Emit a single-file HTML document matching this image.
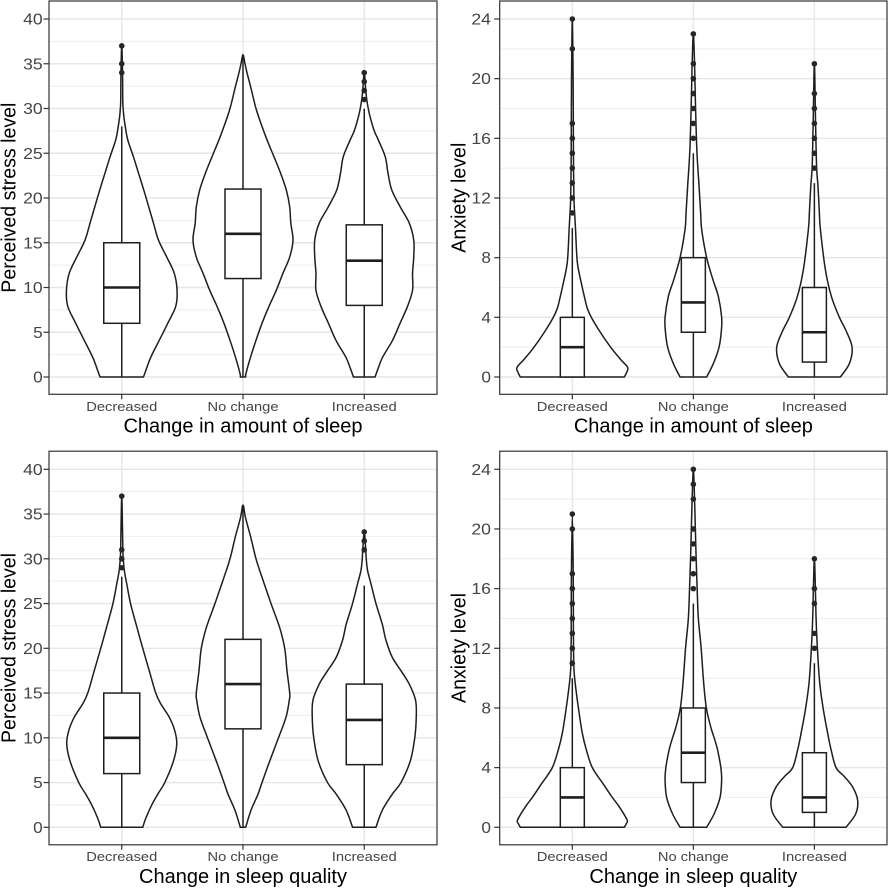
<!DOCTYPE html>
<html>
<head>
<meta charset="utf-8">
<style>
  html,body{margin:0;padding:0;background:#fff;}
  svg{display:block;}
  .yt{font-family:"Liberation Sans",Arial,sans-serif;font-size:15.5px;fill:#444;text-anchor:end;}
  .xt{font-family:"Liberation Sans",Arial,sans-serif;font-size:13.3px;fill:#444;text-anchor:middle;}
  .tt{font-family:"Liberation Sans",Arial,sans-serif;font-size:20px;fill:#000;text-anchor:middle;}
</style>
</head>
<body>
<svg id="s" width="889" height="889" viewBox="0 0 889 889" xmlns="http://www.w3.org/2000/svg">
  <rect x="0" y="0" width="889" height="889" fill="#fff"/>
  <g id="geo"></g>

  <!-- Panel A y tick labels -->
  <text class="yt" x="42.7" y="382.5" textLength="9.6" lengthAdjust="spacingAndGlyphs">0</text>
  <text class="yt" x="42.7" y="337.75" textLength="9.6" lengthAdjust="spacingAndGlyphs">5</text>
  <text class="yt" x="42.7" y="293" textLength="19.6" lengthAdjust="spacingAndGlyphs">10</text>
  <text class="yt" x="42.7" y="248.25" textLength="19.6" lengthAdjust="spacingAndGlyphs">15</text>
  <text class="yt" x="42.7" y="203.5" textLength="19.6" lengthAdjust="spacingAndGlyphs">20</text>
  <text class="yt" x="42.7" y="158.75" textLength="19.6" lengthAdjust="spacingAndGlyphs">25</text>
  <text class="yt" x="42.7" y="114" textLength="19.6" lengthAdjust="spacingAndGlyphs">30</text>
  <text class="yt" x="42.7" y="69.25" textLength="19.6" lengthAdjust="spacingAndGlyphs">35</text>
  <text class="yt" x="42.7" y="24.5" textLength="19.6" lengthAdjust="spacingAndGlyphs">40</text>

  <!-- Panel C y tick labels -->
  <text class="yt" x="42.7" y="832.8" textLength="9.6" lengthAdjust="spacingAndGlyphs">0</text>
  <text class="yt" x="42.7" y="788.05" textLength="9.6" lengthAdjust="spacingAndGlyphs">5</text>
  <text class="yt" x="42.7" y="743.3" textLength="19.6" lengthAdjust="spacingAndGlyphs">10</text>
  <text class="yt" x="42.7" y="698.55" textLength="19.6" lengthAdjust="spacingAndGlyphs">15</text>
  <text class="yt" x="42.7" y="653.8" textLength="19.6" lengthAdjust="spacingAndGlyphs">20</text>
  <text class="yt" x="42.7" y="609.05" textLength="19.6" lengthAdjust="spacingAndGlyphs">25</text>
  <text class="yt" x="42.7" y="564.3" textLength="19.6" lengthAdjust="spacingAndGlyphs">30</text>
  <text class="yt" x="42.7" y="519.55" textLength="19.6" lengthAdjust="spacingAndGlyphs">35</text>
  <text class="yt" x="42.7" y="474.8" textLength="19.6" lengthAdjust="spacingAndGlyphs">40</text>

  <!-- Panel B y tick labels -->
  <text class="yt" x="491" y="382.5" textLength="9.6" lengthAdjust="spacingAndGlyphs">0</text>
  <text class="yt" x="491" y="322.83" textLength="9.6" lengthAdjust="spacingAndGlyphs">4</text>
  <text class="yt" x="491" y="263.17" textLength="9.6" lengthAdjust="spacingAndGlyphs">8</text>
  <text class="yt" x="491" y="203.5" textLength="19.6" lengthAdjust="spacingAndGlyphs">12</text>
  <text class="yt" x="491" y="143.83" textLength="19.6" lengthAdjust="spacingAndGlyphs">16</text>
  <text class="yt" x="491" y="84.17" textLength="19.6" lengthAdjust="spacingAndGlyphs">20</text>
  <text class="yt" x="491" y="24.5" textLength="19.6" lengthAdjust="spacingAndGlyphs">24</text>

  <!-- Panel D y tick labels -->
  <text class="yt" x="491" y="832.8" textLength="9.6" lengthAdjust="spacingAndGlyphs">0</text>
  <text class="yt" x="491" y="773.13" textLength="9.6" lengthAdjust="spacingAndGlyphs">4</text>
  <text class="yt" x="491" y="713.47" textLength="9.6" lengthAdjust="spacingAndGlyphs">8</text>
  <text class="yt" x="491" y="653.8" textLength="19.6" lengthAdjust="spacingAndGlyphs">12</text>
  <text class="yt" x="491" y="594.13" textLength="19.6" lengthAdjust="spacingAndGlyphs">16</text>
  <text class="yt" x="491" y="534.47" textLength="19.6" lengthAdjust="spacingAndGlyphs">20</text>
  <text class="yt" x="491" y="474.8" textLength="19.6" lengthAdjust="spacingAndGlyphs">24</text>

  <!-- X tick labels -->
  <text class="xt" x="121.75" y="410.9" textLength="71" lengthAdjust="spacingAndGlyphs">Decreased</text>
  <text class="xt" x="243" y="410.9" textLength="71" lengthAdjust="spacingAndGlyphs">No change</text>
  <text class="xt" x="364.25" y="410.9" textLength="65" lengthAdjust="spacingAndGlyphs">Increased</text>
  <text class="xt" x="572.3" y="410.9" textLength="71" lengthAdjust="spacingAndGlyphs">Decreased</text>
  <text class="xt" x="693.35" y="410.9" textLength="71" lengthAdjust="spacingAndGlyphs">No change</text>
  <text class="xt" x="814.4" y="410.9" textLength="65" lengthAdjust="spacingAndGlyphs">Increased</text>
  <text class="xt" x="121.75" y="861.2" textLength="71" lengthAdjust="spacingAndGlyphs">Decreased</text>
  <text class="xt" x="243" y="861.2" textLength="71" lengthAdjust="spacingAndGlyphs">No change</text>
  <text class="xt" x="364.25" y="861.2" textLength="65" lengthAdjust="spacingAndGlyphs">Increased</text>
  <text class="xt" x="572.3" y="861.2" textLength="71" lengthAdjust="spacingAndGlyphs">Decreased</text>
  <text class="xt" x="693.35" y="861.2" textLength="71" lengthAdjust="spacingAndGlyphs">No change</text>
  <text class="xt" x="814.4" y="861.2" textLength="65" lengthAdjust="spacingAndGlyphs">Increased</text>

  <!-- Axis titles -->
  <text class="tt" x="243" y="432.7">Change in amount of sleep</text>
  <text class="tt" x="693.35" y="432.7">Change in amount of sleep</text>
  <text class="tt" x="243" y="882.8">Change in sleep quality</text>
  <text class="tt" x="693.35" y="882.8">Change in sleep quality</text>

  <text class="tt" transform="translate(15.6,197.7) rotate(-90)" x="0" y="0" textLength="190" lengthAdjust="spacingAndGlyphs">Perceived stress level</text>
  <text class="tt" transform="translate(15.6,648) rotate(-90)" x="0" y="0" textLength="190" lengthAdjust="spacingAndGlyphs">Perceived stress level</text>
  <text class="tt" transform="translate(465.5,197.7) rotate(-90)" x="0" y="0" textLength="110" lengthAdjust="spacingAndGlyphs">Anxiety level</text>
  <text class="tt" transform="translate(465.5,648) rotate(-90)" x="0" y="0" textLength="110" lengthAdjust="spacingAndGlyphs">Anxiety level</text>
</svg>

<script>
(function(){
  var NS='http://www.w3.org/2000/svg';
  var geo=document.getElementById('geo');
  function el(tag,a,parent){var e=document.createElementNS(NS,tag);for(var k in a)e.setAttribute(k,a[k]);(parent||geo).appendChild(e);return e;}
  function rng(a,b,s){var r=[];for(var v=a;v<=b+1e-9;v+=s)r.push(+v.toFixed(4));return r;}
  function cr(pts){
    var f=function(n){return n.toFixed(2);};
    var d='M'+f(pts[0][0])+','+f(pts[0][1]);
    for(var i=0;i<pts.length-1;i++){
      var p0=pts[i-1]||pts[i],p1=pts[i],p2=pts[i+1],p3=pts[i+2]||pts[i+1];
      var c1x=p1[0]+(p2[0]-p0[0])/6,c1y=p1[1]+(p2[1]-p0[1])/6;
      var c2x=p2[0]-(p3[0]-p1[0])/6,c2y=p2[1]-(p3[1]-p1[1])/6;
      d+='C'+f(c1x)+','+f(c1y)+' '+f(c2x)+','+f(c2y)+' '+f(p2[0])+','+f(p2[1]);
    }
    return d+'Z';
  }
  var STROKE='#1e1e1e';
  var SW=1.5;

  var A1={p:[[0,21.7],[0.7,24],[2.2,29],[4.1,37.5],[6,46],[7.9,54],[9.7,55.3],[11.6,52.5],[13.4,45],[15.3,36.7],[17.2,31.7],[19,27],[20.9,22],[22.8,16.7],[24.6,11.7],[26.5,6],[28,3.5],[29,2.2],[30,1.4],[31,1],[34,0.8],[37,0]],
          s:[0,6,10,15,28],o:[34,35,37]};
  var A2={p:[[0,2.7],[0.4,3],[2.2,7.5],[4.1,13],[6,19],[7.9,26],[9.7,33.3],[11.6,40],[13.4,46.7],[15.3,50],[17.2,47.8],[19,46.7],[20.9,43.3],[22.8,37.5],[24.6,31],[26.5,24],[28,19],[30,13],[32.4,7.7],[34,4],[35,2],[36,0]],
          s:[0,11,16,21,36],o:[]};
  var A3={p:[[0,10.8],[1,14],[2.2,18.3],[4.1,28.3],[6,35.8],[7.9,43.3],[9.7,48.3],[11.6,48.3],[13.4,49.5],[15.3,49.5],[17.2,45],[19,36],[20.9,27.5],[22.8,23.7],[24.6,21],[26.5,14],[27.5,10],[29,6],[30,4],[31,2.5],[32,1.5],[34,0]],
          s:[0,8,13,17,30],o:[31,32,33,34]};

  var B1={p:[[0,52],[0.3,54.3],[0.65,55.3],[1.2,48],[2,38.3],[3,28],[4,19],[4.6,15],[5.4,12],[6.3,9],[7.7,5],[9.9,3.2],[11,2.3],[12,1.6],[14,1.2],[17,1],[20,0.8],[24,0]],
          s:[0,0,2,4,10],o:[11,12,13,14,15,16,17,22,24]};
  var B2={p:[[0,13.3],[0.9,20],[2,25.7],[3.1,28],[4,28.3],[5.4,25],[6.5,19.7],[8,13.3],[9.9,8.3],[11,7.3],[12.8,5.7],[15.2,3.5],[18.6,2],[21,1.2],[23,0]],
          s:[0,3,5,8,15],o:[16,17,18,19,20,21,23]};
  var B3={p:[[0,26],[0.9,35],[2,37.7],[3.1,31.7],[4,25],[5.4,17],[7.2,11],[9.9,6],[11,5],[12.8,3.6],[14.1,2.2],[17,1.2],[21,0]],
          s:[0,1,3,6,13],o:[14,15,16,17,18,19,21]};

  var C1={p:[[0,21],[1,24],[2.5,30],[3.7,36],[5,43],[7.4,51.7],[9.3,55],[10.8,53],[12.3,47.5],[13.8,39],[15,34],[17.5,27.5],[20,21],[22.3,15.3],[25,8.8],[27.2,5],[28.6,2.7],[30,1.5],[31,1.1],[33,0.8],[37,0]],
          s:[0,6,10,15,28],o:[29,30,31,37]};
  var C2={p:[[0,2.7],[1.9,8],[3.7,15],[5,19],[7.4,26.7],[10,35.5],[12.3,43],[14.2,46.3],[15,46.7],[17.5,44],[20,41.7],[22.3,36.7],[25,28],[27.6,20],[30,13],[32.4,7.8],[34.6,2.5],[36,0]],
          s:[0,11,16,21,36],o:[]};
  var C3={p:[[0,11.7],[1.9,18],[3.7,28],[5,36.7],[7.4,46],[10,50.5],[12.3,52],[14.2,51.3],[16,45],[17.5,36.7],[19,28],[20.9,21.7],[22.7,18],[25,11.7],[27.2,6.7],[28.7,3.3],[30,2],[31,1.5],[33,0]],
          s:[0,7,12,16,27],o:[31,32,33]};

  var D1={p:[[0,52],[0.25,54],[0.5,54.7],[1.4,46.7],[2,40],[2.9,31],[4,20],[5.2,14],[6.3,10],[7.9,6.3],[9.7,2.8],[10.8,1.5],[13,1.1],[17,0.9],[21,0]],
          s:[0,0,2,4,10],o:[11,12,13,14,15,16,17,20,21]};
  var D2={p:[[0,13.3],[0.9,20.8],[2,26.7],[3.2,28.3],[4,27.5],[5.2,24.2],[6,20.8],[6.7,17.5],[8,13],[9.7,10.3],[12,7.8],[14,5],[16,3.8],[18,2.8],[20,2],[22,1.2],[24,0]],
          s:[0,3,5,8,15],o:[16,17,18,19,20,22,23,24]};
  var D3={p:[[0,31.7],[0.9,41.3],[1.8,43.3],[2.7,38.3],[3.4,30],[4,21.7],[5.2,16.7],[6.3,13.3],[8,8.7],[9.7,5.3],[12,3],[14,1.7],[16,1],[18,0]],
          s:[0,1,2,5,11],o:[12,13,15,16,18]};

  var P=[
    {L:49,R:437,T:1,B:394.3,y0:377,ppu:8.95,maj:rng(0,40,5),min:rng(2.5,37.5,5),bw:18,V:[A1,A2,A3]},
    {L:499.7,R:887,T:1,B:394.3,y0:377,ppu:14.917,maj:rng(0,24,4),min:rng(2,22,4),bw:12,V:[B1,B2,B3]},
    {L:49,R:437,T:451.2,B:844.8,y0:827.3,ppu:8.95,maj:rng(0,40,5),min:rng(2.5,37.5,5),bw:18,V:[C1,C2,C3]},
    {L:499.7,R:887,T:451.2,B:844.8,y0:827.3,ppu:14.917,maj:rng(0,24,4),min:rng(2,22,4),bw:12,V:[D1,D2,D3]}
  ];

  P.forEach(function(pn){
    var g=el('g',{});
    var Y=function(v){return pn.y0-v*pn.ppu;};
    var step=(pn.R-pn.L)/3.2;
    var cxs=[0,1,2].map(function(i){return pn.L+step*(0.6+i);});
    el('rect',{x:pn.L,y:pn.T,width:pn.R-pn.L,height:pn.B-pn.T,fill:'#fff'},g);
    pn.min.forEach(function(v){var y=Y(v);el('line',{x1:pn.L,x2:pn.R,y1:y,y2:y,stroke:'#eeeeee','stroke-width':1},g);});
    pn.maj.forEach(function(v){var y=Y(v);el('line',{x1:pn.L,x2:pn.R,y1:y,y2:y,stroke:'#e6e6e6','stroke-width':1.4},g);});
    cxs.forEach(function(x){el('line',{x1:x,x2:x,y1:pn.T,y2:pn.B,stroke:'#e6e6e6','stroke-width':1.4},g);});
    pn.V.forEach(function(vi,i){
      var cx=cxs[i];var pts=[];
      vi.p.forEach(function(q){pts.push([cx-q[1],Y(q[0])]);});
      for(var k=vi.p.length-1;k>=0;k--){
        var q=vi.p[k];
        if(k===vi.p.length-1 && q[1]===0) continue;
        pts.push([cx+q[1],Y(q[0])]);
      }
      el('path',{d:cr(pts),fill:'#fff',stroke:STROKE,'stroke-width':SW,'stroke-linejoin':'round'},g);
    });
    pn.V.forEach(function(vi,i){
      var cx=cxs[i],s=vi.s,bw=pn.bw;
      if(s[4]>s[3]) el('line',{x1:cx,x2:cx,y1:Y(s[3]),y2:Y(s[4]),stroke:STROKE,'stroke-width':SW},g);
      if(s[1]>s[0]) el('line',{x1:cx,x2:cx,y1:Y(s[1]),y2:Y(s[0]),stroke:STROKE,'stroke-width':SW},g);
      el('rect',{x:cx-bw,y:Y(s[3]),width:2*bw,height:Y(s[1])-Y(s[3]),fill:'#fff',stroke:STROKE,'stroke-width':SW},g);
      el('line',{x1:cx-bw,x2:cx+bw,y1:Y(s[2]),y2:Y(s[2]),stroke:STROKE,'stroke-width':2.6},g);
      vi.o.forEach(function(v){el('circle',{cx:cx,cy:Y(v),r:2.8,fill:'#262626'},g);});
    });
    el('rect',{x:pn.L,y:pn.T,width:pn.R-pn.L,height:pn.B-pn.T,fill:'none',stroke:'#333','stroke-width':1.2},g);
    pn.maj.forEach(function(v){var y=Y(v);el('line',{x1:pn.L-5.5,x2:pn.L,y1:y,y2:y,stroke:'#333','stroke-width':1.2},g);});
    cxs.forEach(function(x){el('line',{x1:x,x2:x,y1:pn.B,y2:pn.B+5,stroke:'#333','stroke-width':1.2},g);});
  });
})();
</script>
</body>
</html>
